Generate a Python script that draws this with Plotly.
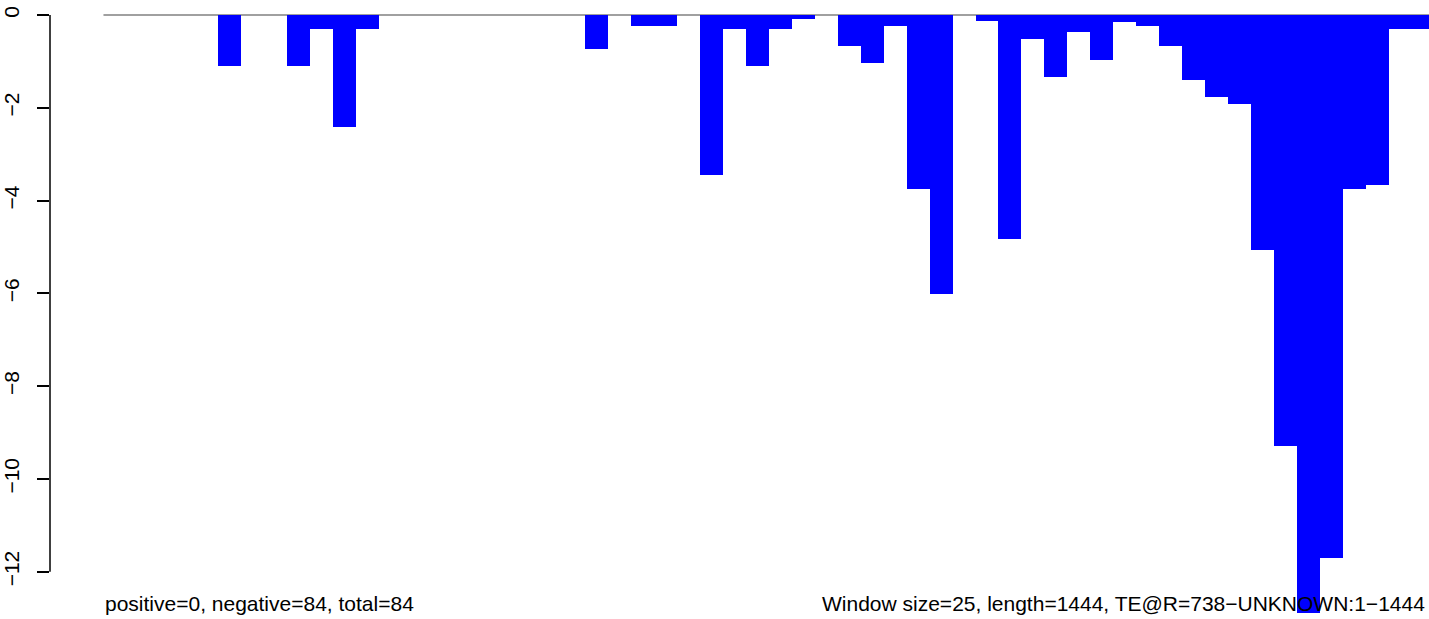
import plotly.graph_objects as go

# Data: 25-bp windows along a 1444-bp sequence (window index 0..57)
window_size = 25
seq_length = 1444
window_values = [
    0, 0, 0, 0, 0, -1.09, 0, 0, -1.09, -0.30,
    -2.41, -0.30, 0, 0, 0, 0, 0, 0, 0, 0,
    0, -0.73, 0, -0.23, -0.23, 0, -3.44, -0.30, -1.10, -0.30,
    -0.08, 0, -0.66, -1.03, -0.23, -3.74, -6.01, 0, -0.14, -4.82,
    -0.52, -1.33, -0.37, -0.97, -0.15, -0.24, -0.67, -1.40, -1.77, -1.92,
    -5.06, -9.28, -12.88, -11.70, -3.75, -3.66, -0.30, -0.30,
]
y_tick_values = [0, -2, -4, -6, -8, -10, -12]
y_tick_labels = ["0", "\u22122", "\u22124", "\u22126", "\u22128", "\u221210", "\u221212"]
left_caption = "positive=0, negative=84, total=84"
right_caption = "Window size=25, length=1444, TE@R=738\u2212UNKNOWN:1\u22121444"

starts = [i * window_size for i in range(len(window_values))]
ends = [min(s + window_size, seq_length) for s in starts]
centers = [(s + e) / 2 for s, e in zip(starts, ends)]
widths = [e - s for s, e in zip(starts, ends)]

FONT = "Liberation Sans, Arial, Helvetica, sans-serif"
W, H = 1429, 619
px_per_unit = (571.7 - 15) / 12.0
y_top = 15 / px_per_unit
y_bot = -(H - 15) / px_per_unit

fig = go.Figure()
fig.add_trace(go.Bar(
    x=centers, y=window_values, width=widths,
    marker=dict(color="#0000FF", line=dict(width=0)),
    hoverinfo="x+y", showlegend=False,
))

# gray zero line from 0 to sequence length
fig.add_shape(type="line", xref="x", yref="y", x0=0, x1=seq_length, y0=0, y1=0,
              line=dict(color="#808080", width=1.6), layer="below")
# y axis line from 0 to -12
fig.add_shape(type="line", xref="paper", yref="y", x0=0, x1=0,
              y0=y_tick_values[-1], y1=y_tick_values[0],
              line=dict(color="black", width=1.5))

cap_y = (H - 603) / H

fig.update_layout(
    width=W, height=H,
    margin=dict(l=50, r=0, t=0, b=0),
    paper_bgcolor="white", plot_bgcolor="white",
    bargap=0,
    font=dict(family=FONT, size=21, color="black"),
    xaxis=dict(range=[-58.25, seq_length], showgrid=False, zeroline=False,
               showline=False, showticklabels=False, ticks=""),
    yaxis=dict(range=[y_bot, y_top], showgrid=False, zeroline=False,
               showline=False, tickvals=y_tick_values, ticktext=y_tick_labels,
               ticks="outside", ticklen=12, tickwidth=1.5, tickcolor="black",
               tickangle=-90, ticklabelstandoff=10,
               tickfont=dict(family=FONT, size=21, color="black")),
    annotations=[
        dict(text=left_caption, xref="x", yref="paper", x=0, y=cap_y,
             xanchor="left", yanchor="middle", showarrow=False,
             font=dict(family=FONT, size=21, color="black")),
        dict(text=right_caption, xref="paper", yref="paper", x=1, y=cap_y,
             xanchor="right", yanchor="middle", showarrow=False, xshift=-2,
             font=dict(family=FONT, size=21, color="black")),
    ],
)

fig.write_html(
    "out.html",
    config={"displayModeBar": False},
    post_script="document.body.style.margin='0';document.body.style.overflow='hidden';",
)
